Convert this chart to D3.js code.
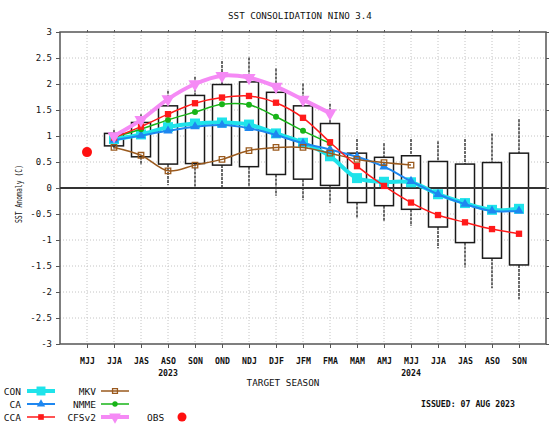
<!DOCTYPE html>
<html>
<head>
<meta charset="utf-8">
<script src="https://cdn.jsdelivr.net/npm/d3@7"></script>
<style>
  html, body { margin: 0; padding: 0; background: #fff; }
  svg { display: block; }
  text { font-family: "DejaVu Sans Mono", monospace; fill: #111; }
</style>
</head>
<body>
<svg id="chart" width="552" height="439"></svg>
<script>
// Target seasons (Jun 2023 .. Nov 2024)
const seasons = ["MJJ","JJA","JAS","ASO","SON","OND","NDJ","DJF","JFM","FMA","MAM","AMJ","MJJ","JJA","JAS","ASO","SON"];
const yearLabels = ["","","","2023","","","","","","","","","2024","","","",""];
const yTicks = [3,2.5,2,1.5,1,0.5,0,-0.5,-1,-1.5,-2,-2.5,-3];
const yTickLabels = ["3","2.5","2","1.5","1","0.5","0","-0.5","-1","-1.5","-2","-2.5","-3"];

// Model spread: box edges and whisker ends per season (null = none)
const boxTop     = [null,1.05,1.26,1.58,1.78,1.99,2.04,1.84,1.58,1.24,0.67,0.59,0.62,0.51,0.46,0.49,0.67];
const boxBottom  = [null,0.81,0.60,0.46,0.47,0.44,0.41,0.26,0.17,0.05,-0.28,-0.34,-0.41,-0.75,-1.05,-1.35,-1.48];
const whiskerTop = [null,1.12,1.42,1.87,2.14,2.44,2.51,2.30,2.01,1.62,0.94,0.86,0.94,0.90,0.94,1.05,1.32];
const whiskerBot = [null,0.76,0.44,0.06,0.03,0.02,0.0,-0.15,-0.23,-0.29,-0.58,-0.65,-0.73,-1.16,-1.53,-1.93,-2.14];

// Forecast series
const CON   = [null,0.94,1.03,1.17,1.24,1.26,1.22,1.05,0.87,0.61,0.19,0.12,0.11,-0.12,-0.29,-0.42,-0.40];
const CA    = [null,0.92,1.01,1.10,1.18,1.21,1.15,1.02,0.86,0.74,0.60,0.41,0.13,-0.12,-0.31,-0.44,-0.44];
const CCA   = [null,0.97,1.18,1.42,1.63,1.74,1.77,1.64,1.35,0.88,0.42,0.04,-0.28,-0.52,-0.66,-0.79,-0.88];
const MKV   = [null,0.78,0.63,0.33,0.44,0.55,0.72,0.78,0.78,0.67,0.55,0.49,0.44,null,null,null,null];
const NMME  = [null,0.98,1.13,1.31,1.46,1.61,1.60,1.37,1.10,0.86,null,null,null,null,null,null,null];
const CFSv2 = [null,1.00,1.31,1.71,2.00,2.16,2.12,1.95,1.70,1.44,null,null,null,null,null,null,null];
const OBS   = [0.69,null,null,null,null,null,null,null,null,null,null,null,null,null,null,null,null];

const svg = d3.select("#chart");
const plotL = 60, plotR = 546, plotT = 32, plotB = 344;

const idx = d3.range(seasons.length);
const x = d3.scalePoint().domain(idx).range([plotL, plotR]).padding(1);
const y = d3.scaleLinear().domain([-3, 3]).range([plotB, plotT]);

// Grid
const grid = svg.append("g");
grid.selectAll("line.gy").data(yTicks.filter(v => v !== 3 && v !== -3 && v !== 0))
  .join("line")
  .attr("x1", plotL).attr("x2", plotR)
  .attr("y1", d => y(d)).attr("y2", d => y(d))
  .attr("stroke", "#c4c4c4").attr("stroke-width", 1).attr("stroke-dasharray", "1,2");
grid.selectAll("line.gx").data(idx)
  .join("line")
  .attr("x1", d => x(d)).attr("x2", d => x(d))
  .attr("y1", plotT).attr("y2", plotB)
  .attr("stroke", "#c4c4c4").attr("stroke-width", 1).attr("stroke-dasharray", "1,2");

// Axes
const yAxisL = d3.axisLeft(y).tickValues(yTicks).tickSize(4).tickFormat((d, i) => yTickLabels[i]);
const gyl = svg.append("g").attr("transform", `translate(${plotL},0)`).call(yAxisL);
gyl.selectAll("text").attr("font-size", 9).attr("x", -8).attr("fill", "#222");
const gyr = svg.append("g").attr("transform", `translate(${plotR},0)`)
  .call(d3.axisRight(y).tickValues(yTicks).tickSize(3).tickFormat(""));
const gxb = svg.append("g").attr("transform", `translate(0,${plotB})`)
  .call(d3.axisBottom(x).tickSize(4).tickFormat(i => seasons[i]));
gxb.selectAll("text").attr("font-size", 8.2).attr("font-weight", "bold").attr("y", 14).attr("fill", "#111");
const gxt = svg.append("g").attr("transform", `translate(0,${plotT})`)
  .call(d3.axisTop(x).tickSize(2).tickFormat(""));
[gyl, gyr, gxb, gxt].forEach(g => {
  g.select(".domain").remove();
  g.selectAll(".tick line").attr("stroke", "#555");
});

// Year labels under the season ticks
svg.append("g").selectAll("text").data(idx.filter(i => yearLabels[i]))
  .join("text")
  .attr("x", i => x(i)).attr("y", 376)
  .attr("text-anchor", "middle").attr("font-size", 8.2).attr("font-weight", "bold")
  .text(i => yearLabels[i]);

// Boxes and whiskers
const boxW = 19;
const boxIdx = idx.filter(i => boxTop[i] !== null);
const gb = svg.append("g");
gb.selectAll("line.wt").data(boxIdx).join("line")
  .attr("x1", i => x(i)).attr("x2", i => x(i))
  .attr("y1", i => y(whiskerTop[i])).attr("y2", i => y(boxTop[i]))
  .attr("stroke", "#111").attr("stroke-width", 1.2).attr("stroke-dasharray", "3,1");
gb.selectAll("line.wb").data(boxIdx).join("line")
  .attr("x1", i => x(i)).attr("x2", i => x(i))
  .attr("y1", i => y(boxBottom[i])).attr("y2", i => y(whiskerBot[i]))
  .attr("stroke", "#111").attr("stroke-width", 1.2).attr("stroke-dasharray", "3,1");
gb.selectAll("rect").data(boxIdx).join("rect")
  .attr("x", i => x(i) - boxW / 2).attr("width", boxW)
  .attr("y", i => y(boxTop[i])).attr("height", i => y(boxBottom[i]) - y(boxTop[i]))
  .attr("fill", "#fff").attr("stroke", "#1a1a1a").attr("stroke-width", 1.5);

// Frame and zero line
svg.append("rect").attr("x", plotL).attr("y", plotT).attr("width", plotR - plotL).attr("height", plotB - plotT)
  .attr("fill", "none").attr("stroke", "#555").attr("stroke-width", 1.5);
svg.append("line").attr("x1", plotL).attr("x2", plotR).attr("y1", y(0)).attr("y2", y(0))
  .attr("stroke", "#333").attr("stroke-width", 2);

// Marker shapes
const sym = {
  square: d3.symbolSquare,
  triangle: d3.symbolTriangle,
  circle: d3.symbolCircle
};
const series = [
  { name: "CON",   values: CON,   color: "#1fe3ea", width: 4,   shape: "square",   size: 100, fill: "#1fe3ea" },
  { name: "CA",    values: CA,    color: "#1e87f0", width: 2,   shape: "triangle", size: 38,  fill: "#1e87f0" },
  { name: "MKV",   values: MKV,   color: "#9a5a1e", width: 1.5, shape: "square",   size: 30,  fill: "none" },
  { name: "NMME",  values: NMME,  color: "#18b418", width: 1.5, shape: "circle",   size: 28,  fill: "#18b418" },
  { name: "CCA",   values: CCA,   color: "#ff1a1a", width: 1.5, shape: "square",   size: 40,  fill: "#ff1a1a" },
  { name: "CFSv2", values: CFSv2, color: "#f58af5", width: 4,   shape: "invtri",   size: 75,  fill: "#f58af5" }
];

function symbolPath(s, size) {
  if (s === "invtri") return d3.symbol(d3.symbolTriangle, size)();
  return d3.symbol(sym[s], size)();
}

const line = d3.line()
  .defined(d => d.v !== null)
  .x(d => x(d.i)).y(d => y(d.v))
  .curve(d3.curveCatmullRom.alpha(0.5));

const gs = svg.append("g");
series.forEach(s => {
  const pts = s.values.map((v, i) => ({ i, v }));
  gs.append("path").datum(pts)
    .attr("d", line)
    .attr("fill", "none").attr("stroke", s.color).attr("stroke-width", s.width);
  gs.append("g").selectAll("path").data(pts.filter(d => d.v !== null)).join("path")
    .attr("d", symbolPath(s.shape, s.size))
    .attr("transform", d => `translate(${x(d.i)},${y(d.v)})` + (s.shape === "invtri" ? " rotate(180)" : ""))
    .attr("fill", s.fill)
    .attr("stroke", s.fill === "none" ? s.color : "none")
    .attr("stroke-width", 1.3);
});

// Observed value
svg.append("g").selectAll("circle").data(OBS.map((v, i) => ({ i, v })).filter(d => d.v !== null))
  .join("circle")
  .attr("cx", d => x(d.i)).attr("cy", d => y(d.v)).attr("r", 5)
  .attr("fill", "#ff1010");

// Titles
svg.append("text").attr("x", 300).attr("y", 19).attr("text-anchor", "middle")
  .attr("font-size", 9.2).attr("fill", "#222").text("SST CONSOLIDATION NINO 3.4");
svg.append("text").attr("x", 283).attr("y", 386).attr("text-anchor", "middle")
  .attr("font-size", 9.3).attr("fill", "#222").text("TARGET SEASON");
svg.append("text").attr("transform", "translate(22,194) rotate(-90)").attr("text-anchor", "middle")
  .attr("font-size", 9.5).attr("textLength", 58).attr("lengthAdjust", "spacingAndGlyphs")
  .attr("fill", "#333").text("SST Anomaly (C)");
svg.append("text").attr("x", 421).attr("y", 407)
  .attr("font-size", 8.2).attr("font-weight", "bold").attr("textLength", 94)
  .attr("lengthAdjust", "spacingAndGlyphs").text("ISSUED: 07 AUG 2023");

// Legend
const legendRows = [
  { s: series[0], tx: 21, lx: 27, ly: 391 },
  { s: series[1], tx: 21, lx: 27, ly: 404 },
  { s: series[4], tx: 21, lx: 27, ly: 417 },
  { s: series[2], tx: 96, lx: 101, ly: 391 },
  { s: series[3], tx: 96, lx: 101, ly: 404 },
  { s: series[5], tx: 96, lx: 101, ly: 417 }
];
const gl = svg.append("g");
legendRows.forEach(r => {
  gl.append("text").attr("x", r.tx).attr("y", r.ly + 3.5).attr("text-anchor", "end")
    .attr("font-size", 9.5).attr("fill", "#222").text(r.s.name);
  gl.append("line").attr("x1", r.lx).attr("x2", r.lx + 28).attr("y1", r.ly).attr("y2", r.ly)
    .attr("stroke", r.s.color).attr("stroke-width", r.s.width);
  gl.append("path").attr("d", symbolPath(r.s.shape, r.s.size * 0.8))
    .attr("transform", `translate(${r.lx + 14},${r.ly})` + (r.s.shape === "invtri" ? " rotate(180)" : ""))
    .attr("fill", r.s.fill).attr("stroke", r.s.fill === "none" ? r.s.color : "none").attr("stroke-width", 1.3);
});
gl.append("text").attr("x", 147).attr("y", 420.5).attr("font-size", 9.5).attr("fill", "#222").text("OBS");
gl.append("circle").attr("cx", 182).attr("cy", 417).attr("r", 4.5).attr("fill", "#ff1010");
</script>
</body>
</html>
